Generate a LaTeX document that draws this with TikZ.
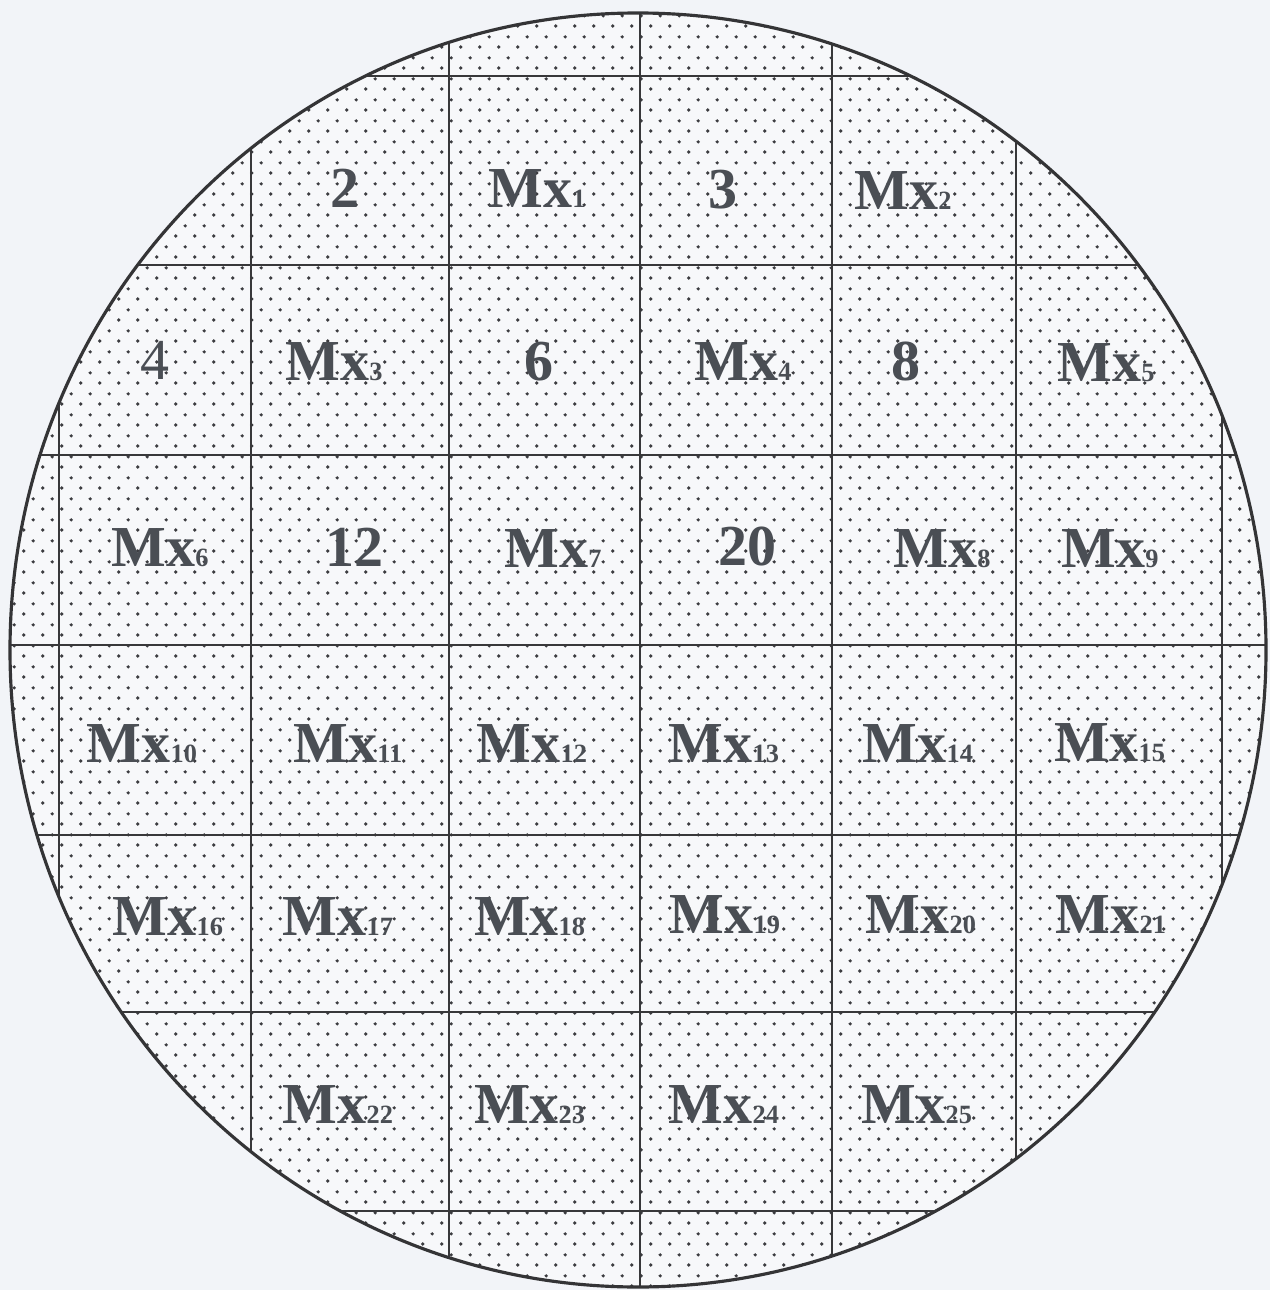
\documentclass[tikz,border=0pt]{standalone}
\usepackage{fontspec}
\setmainfont{Liberation Serif}
\usepackage{tikz}
\usetikzlibrary{patterns}
\definecolor{paperc}{HTML}{F2F4F8}
\definecolor{waferc}{HTML}{F7F8FA}
\definecolor{edgec}{HTML}{343436}
\definecolor{gridc}{HTML}{38383A}
\definecolor{dotc}{HTML}{3C3C40}
\definecolor{txtc}{HTML}{4A4E54}
% staggered dot tile, two dots per cell
\pgfdeclarepatternformonly{waferdots}{\pgfpointorigin}{\pgfqpoint{10.812pt}{11.723pt}}{\pgfqpoint{10.812pt}{11.723pt}}{
  \pgfpathcircle{\pgfqpoint{2.7pt}{2.93pt}}{1.05pt}
  \pgfpathcircle{\pgfqpoint{8.106pt}{8.79pt}}{1.05pt}
  \pgfusepath{fill}
}
\tikzset{
  wafer/.style={draw=edgec,line width=1.8pt},
  gridln/.style={draw=gridc,line width=1.2pt},
  lbl/.style={anchor=base,inner sep=0pt,text=txtc,font=\fontsize{33}{33}\selectfont\bfseries},
  lblr/.style={lbl,font=\fontsize{33}{33}\selectfont}
}
\newcommand{\mx}[1]{Mx{\fontsize{15}{15}\selectfont #1}}

\begin{document}
\begin{tikzpicture}[x=0.02cm,y=-0.02cm]
\fill[paperc] (0,0) rectangle (1270,1290);
\useasboundingbox (0,0) rectangle (1270,1290);
\fill[waferc] (638,650) ellipse (628 and 637);
\fill[pattern=waferdots,pattern color=dotc] (638,650) ellipse (628 and 637);
% die grid
\begin{scope}
\clip (638,650) ellipse (628 and 637);
\foreach \gx in {59,251,449,640,832,1016,1222}{\draw[gridln] (\gx,0) -- (\gx,1290);}
\foreach \gy in {76,265,455,645,835,1012,1211}{\draw[gridln] (0,\gy) -- (1270,\gy);}
\end{scope}
\draw[wafer] (638,650) ellipse (628 and 637);
% die labels
\node[lblr] (n4) at (155,379) {4};
\foreach \px/\py/\tx/\nm in {
  345/208/2/n2, 537/208/\mx{1}/m1, 723/209/3/n3, 903/210/\mx{2}/m2,
  334/380/\mx{3}/m3, 539/380/6/n6, 743/380/\mx{4}/m4, 906/380/8/n8, 1106/381/\mx{5}/m5,
  160/566/\mx{6}/m6, 354/566/12/n12, 553/567/\mx{7}/m7, 747/565/20/n20, 942/567/\mx{8}/m8, 1110/567/\mx{9}/m9,
  142/762/\mx{10}/m10, 348/762/\mx{11}/m11, 532/762/\mx{12}/m12, 724/762/\mx{13}/m13, 918/762/\mx{14}/m14, 1110/761/\mx{15}/m15,
  168/935/\mx{16}/m16, 338/935/\mx{17}/m17, 530/935/\mx{18}/m18, 725/933/\mx{19}/m19, 921/933/\mx{20}/m20, 1111/933/\mx{21}/m21,
  338/1123/\mx{22}/m22, 530/1123/\mx{23}/m23, 724/1123/\mx{24}/m24, 917/1123/\mx{25}/m25}{
  \node[lbl] (\nm) at (\px,\py) {\tx};
}
\end{tikzpicture}
\end{document}
